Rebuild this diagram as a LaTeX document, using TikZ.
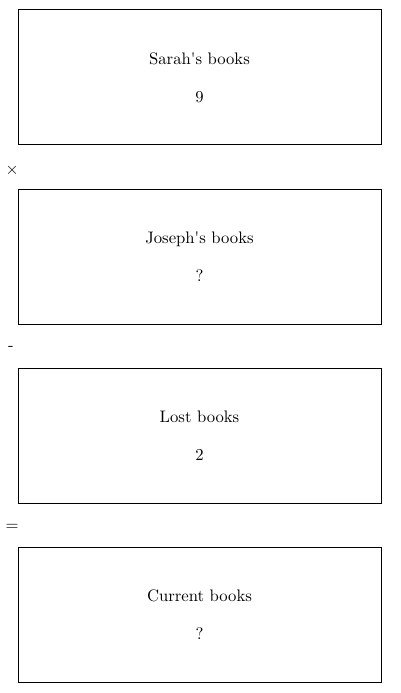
\documentclass[tikz,border=0pt]{standalone}
\usepackage{fontspec}
\begin{document}
\begin{tikzpicture}[x=0.6pt, y=-0.6pt,
    bookbox/.style={draw, line width=0.6pt, minimum width=217.8pt, minimum height=81pt,
      align=center, inner sep=0pt},
    opsign/.style={inner sep=0pt}]
        \useasboundingbox (0,0) rectangle (400,693);
        % Quantity boxes
        \node[bookbox] (sarah) at (199.5,77.5) {Sarah\textquotesingle s books\\[10.8pt]9};
        \node[bookbox] (joseph) at (199.5,256.5) {Joseph\textquotesingle s books\\[10.8pt]?};
        \node[bookbox] (lost) at (199.5,435.5) {Lost books\\[10.8pt]2};
        \node[bookbox] (current) at (199.5,614.5) {Current books\\[10.8pt]?};
        % Operators between the boxes
        \node[opsign] (times) at (12,170) {$\times$};
        \node[opsign] (minus) at (11,348) {-};
        \node[opsign] (equals) at (12,527) {=};
      \end{tikzpicture}
\end{document}
